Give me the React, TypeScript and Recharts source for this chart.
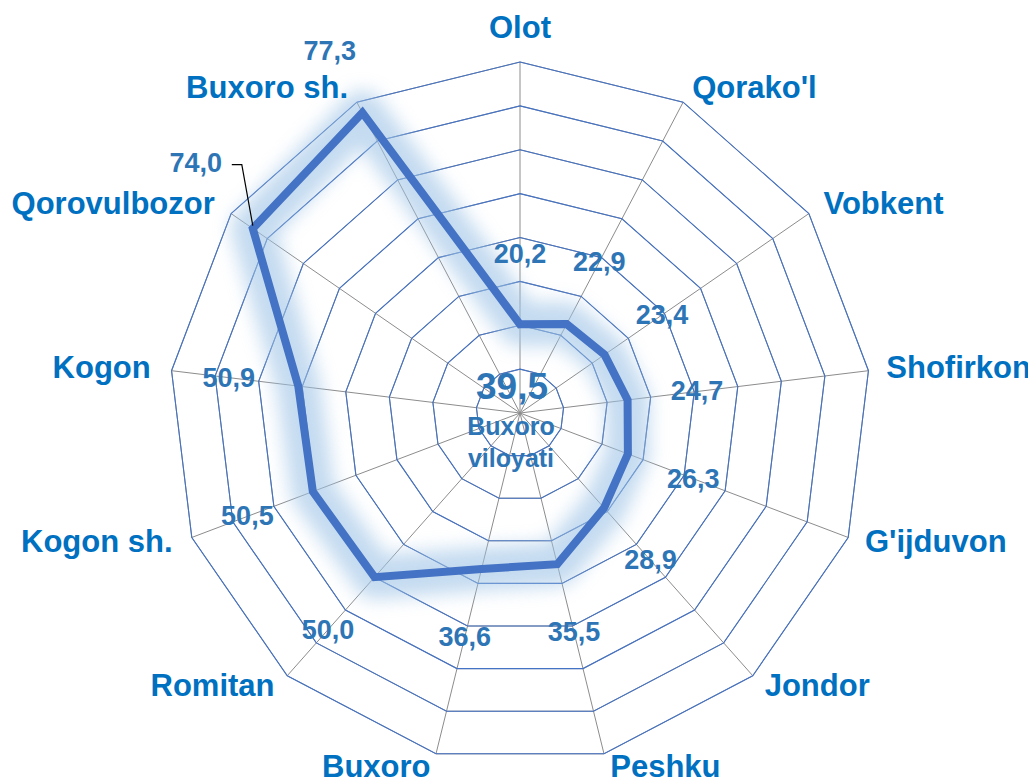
import React from "react";
import { RadarChart, Radar, PolarGrid, PolarAngleAxis, PolarRadiusAxis } from "recharts";

const categories = ["Olot", "Qorako'l", "Vobkent", "Shofirkon", "G'ijduvon", "Jondor", "Peshku", "Buxoro", "Romitan", "Kogon sh.", "Kogon", "Qorovulbozor", "Buxoro sh."];
const values = [20.2, 22.9, 23.4, 24.7, 26.3, 28.9, 35.5, 36.6, 50.0, 50.5, 50.9, 74.0, 77.3];
const regionValue = 39.5;
const regionName = ["Buxoro", "viloyati"];
const radiusTicks = [0, 80];

const data = categories.map((name, i) => ({ name, value: values[i] }));
const fmt = (v: number) => v.toFixed(1).replace(".", ",");

const W = 1028;
const H = 774;
const CX = 512;
const CY = 405;
const R = 351;
const FONT = "'Liberation Sans', Arial, sans-serif";
const CAT_COLOR = "#0070C0";
const VAL_COLOR = "#2E75B6";

const renderTick = (props: any) => {
  const { x, y, payload, textAnchor } = props;
  const ang = (payload.coordinate * Math.PI) / 180;
  const c = Math.cos(ang);
  const s = Math.sin(ang);
  let dx = 0;
  let dy = 9 - 7 * s;
  if (textAnchor === "middle" && s > 0) dy = -16;
  if (textAnchor === "start") dx = 4 + 6 * c * c;
  else if (textAnchor === "end") dx = -(3 + 10 * c * c);
  return (
    <text x={x + dx} y={y + dy} textAnchor={textAnchor} fill={CAT_COLOR} fontFamily={FONT} fontWeight="bold" fontSize={31}>
      {payload.value}
    </text>
  );
};

const renderValueLabel = (props: any) => {
  const { cx: px, cy: py, index } = props;
  const dxv = px - CX;
  const dyv = py - CY;
  const len = Math.sqrt(dxv * dxv + dyv * dyv) || 1;
  const off = 70;
  let lx = px + (dxv / len) * off;
  let ly = py + (dyv / len) * off;
  const label = fmt(values[index]);
  if (index === 11) {
    lx = px - 57;
    ly = py - 66;
    return (
      <g key={`lbl-${index}`}>
        <polyline points={`${lx + 36},${ly + 2} ${lx + 46},${ly + 2} ${px},${py - 3}`} fill="none" stroke="#000" strokeWidth={1.2} />
        <text x={lx} y={ly} textAnchor="middle" dominantBaseline="central" fill={VAL_COLOR} fontFamily={FONT} fontWeight="bold" fontSize={27}>
          {label}
        </text>
      </g>
    );
  }
  return (
    <g key={`lbl-${index}`}>
      <text x={lx} y={ly} textAnchor="middle" dominantBaseline="central" fill={VAL_COLOR} fontFamily={FONT} fontWeight="bold" fontSize={27}>
        {label}
      </text>
    </g>
  );
};

const glowShape = (props: any) => {
  const pts = (props.points || []).map((p: any) => `${p.x},${p.y}`).join(" ");
  return (
    <polygon points={pts} fill="none" stroke="#9DC3E6" strokeWidth={44} strokeLinejoin="round" opacity={0.6} filter="url(#glowBlur)" />
  );
};

export default function App() {
  return (
    <div style={{ position: "relative", width: W, height: H }}>
      <svg width={0} height={0} style={{ position: "absolute" }}>
        <defs>
          <filter id="glowBlur" x="-30%" y="-30%" width="160%" height="160%">
            <feGaussianBlur stdDeviation="9" />
          </filter>
        </defs>
      </svg>
      <RadarChart width={W} height={H} cx={CX} cy={CY} outerRadius={R} data={data} margin={{ top: 0, right: 0, bottom: 0, left: 0 }}>
        <PolarGrid gridType="polygon" stroke="#8C8C8C" strokeWidth={1} />
        <PolarGrid gridType="polygon" radialLines={false} stroke="#4472C4" strokeWidth={1.1} />
        <PolarAngleAxis dataKey="name" tick={renderTick} tickLine={false} axisLine={false} />
        <PolarRadiusAxis domain={radiusTicks} tickCount={9} tick={false} axisLine={false} />
        <Radar dataKey="value" stroke="none" fill="none" dot={false} isAnimationActive={false} shape={glowShape} />
        <Radar dataKey="value" stroke="#4472C4" strokeWidth={8} strokeLinejoin="miter" fill="none" isAnimationActive={false} dot={renderValueLabel} />
      </RadarChart>
      <svg width={W} height={H} style={{ position: "absolute", left: 0, top: 0, pointerEvents: "none" }}>
        <text x={504} y={391} textAnchor="middle" fill={VAL_COLOR} fontFamily={FONT} fontWeight="bold" fontSize={37}>
          {fmt(regionValue)}
        </text>
        <text x={503} y={427} textAnchor="middle" fill={VAL_COLOR} fontFamily={FONT} fontWeight="bold" fontSize={25}>
          {regionName[0]}
        </text>
        <text x={503} y={459} textAnchor="middle" fill={VAL_COLOR} fontFamily={FONT} fontWeight="bold" fontSize={25}>
          {regionName[1]}
        </text>
      </svg>
    </div>
  );
}
